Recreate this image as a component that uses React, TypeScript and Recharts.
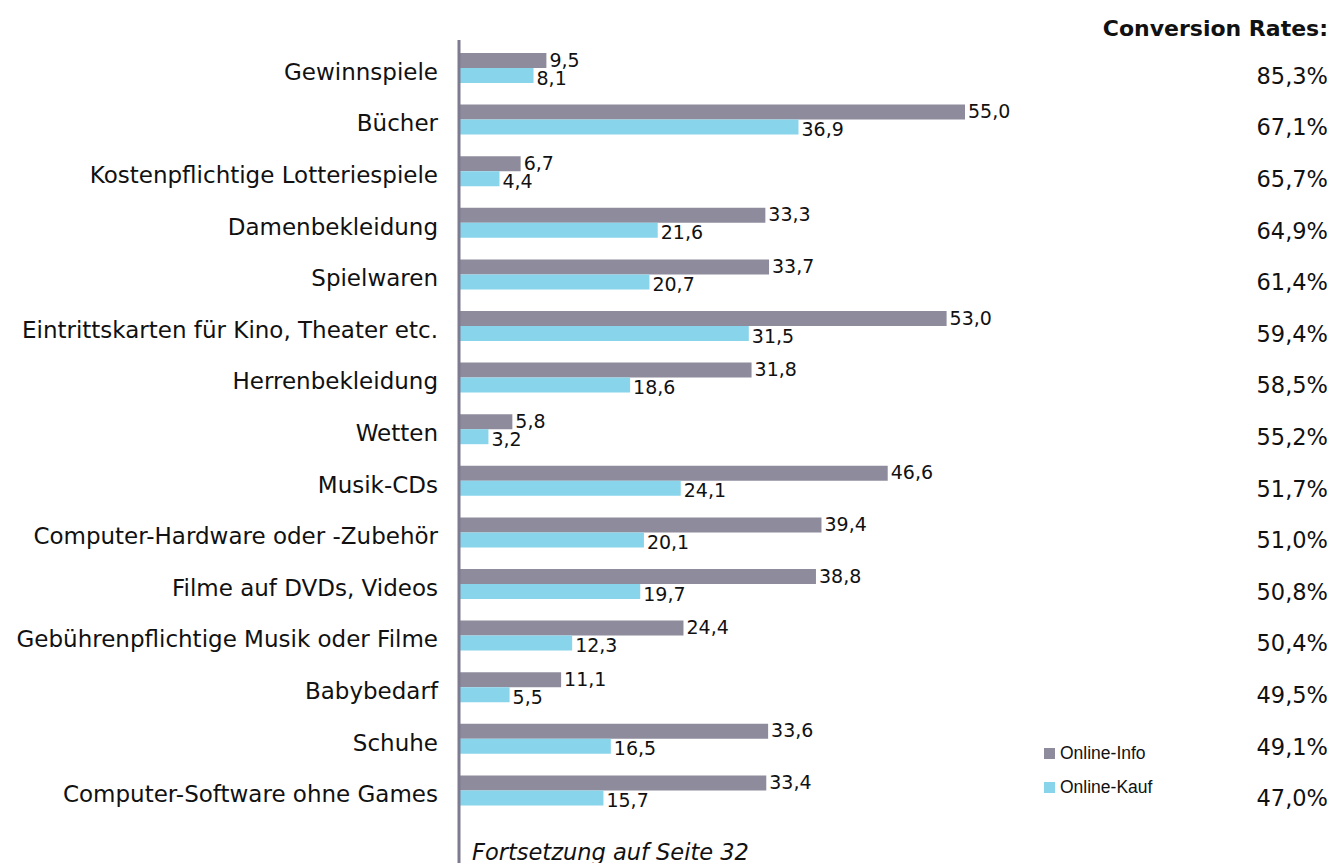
import { BarChart, Bar, XAxis, YAxis, Legend, LabelList } from "recharts"

const categories = [
  "Gewinnspiele",
  "Bücher",
  "Kostenpflichtige Lotteriespiele",
  "Damenbekleidung",
  "Spielwaren",
  "Eintrittskarten für Kino, Theater etc.",
  "Herrenbekleidung",
  "Wetten",
  "Musik-CDs",
  "Computer-Hardware oder -Zubehör",
  "Filme auf DVDs, Videos",
  "Gebührenpflichtige Musik oder Filme",
  "Babybedarf",
  "Schuhe",
  "Computer-Software ohne Games",
]
const onlineInfo = [9.5, 55.0, 6.7, 33.3, 33.7, 53.0, 31.8, 5.8, 46.6, 39.4, 38.8, 24.4, 11.1, 33.6, 33.4]
const onlineKauf = [8.1, 36.9, 4.4, 21.6, 20.7, 31.5, 18.6, 3.2, 24.1, 20.1, 19.7, 12.3, 5.5, 16.5, 15.7]
const conversionRates = [
  "85,3%", "67,1%", "65,7%", "64,9%", "61,4%", "59,4%", "58,5%", "55,2%",
  "51,7%", "51,0%", "50,8%", "50,4%", "49,5%", "49,1%", "47,0%",
]

const data = categories.map((name, i) => ({
  name,
  info: onlineInfo[i],
  kauf: onlineKauf[i],
  rate: conversionRates[i],
}))

const FONT = "'DejaVu Sans', Verdana, sans-serif"
const GRAY = "#8e8c9c"
const BLUE = "#88d4eb"
const RIGHT_W = 138

const fmt = (v: number) => Number(v).toFixed(1).replace(".", ",")

const valueLabel = (dy: number) => (props: any) => {
  const { x, y, width, height, value } = props
  return (
    <text
      x={Number(x) + Number(width) + 3}
      y={Number(y) + Number(height) / 2 + dy}
      dominantBaseline="central"
      fontSize={19}
      fontFamily={FONT}
      fill="#111"
    >
      {fmt(value)}
    </text>
  )
}

const CategoryTick = (props: any) => {
  const { x, y, payload } = props
  return (
    <text x={x} y={y + 4} textAnchor="end" dominantBaseline="central" fontSize={23} fontFamily={FONT} fill="#111">
      {payload.value}
    </text>
  )
}

const RateTick = (props: any) => {
  const { x, y, payload } = props
  const row = data.find((d) => d.name === payload.value)
  return (
    <text x={x + RIGHT_W - 5} y={y + 8} textAnchor="end" dominantBaseline="central" fontSize={22.5} fontFamily={FONT} fill="#111">
      {row ? row.rate : ""}
    </text>
  )
}

const LegendBox = (props: any) => {
  const { payload } = props
  return (
    <div style={{ fontFamily: "'Liberation Sans', Arial, sans-serif", fontSize: 17.5, color: "#111" }}>
      {payload.map((p: any) => (
        <div key={p.value} style={{ display: "flex", alignItems: "center", height: 34 }}>
          <span style={{ width: 11, height: 11, background: p.color, marginRight: 5, display: "inline-block" }} />
          {p.value}
        </div>
      ))}
    </div>
  )
}

export default function App() {
  return (
    <div style={{ position: "absolute", left: 0, top: 0, width: 1333, height: 863, background: "#fff" }}>
      <BarChart
        width={1333}
        height={863}
        layout="vertical"
        data={data}
        margin={{ top: 40, right: 0, bottom: 0, left: 0 }}
        barGap={0}
        barSize={15}
      >
        <XAxis type="number" domain={[0, 80]} hide />
        <YAxis
          yAxisId="left"
          type="category"
          dataKey="name"
          width={459}
          padding={{ top: 2, bottom: 47 }}
          axisLine={{ stroke: "#7e7a90", strokeWidth: 3 }}
          tickLine={false}
          tickSize={0}
          tickMargin={21}
          tick={<CategoryTick />}
          interval={0}
        />
        <YAxis
          yAxisId="right"
          orientation="right"
          type="category"
          dataKey="name"
          width={RIGHT_W}
          padding={{ top: 2, bottom: 47 }}
          axisLine={false}
          tickLine={false}
          tickSize={0}
          tickMargin={0}
          tick={<RateTick />}
          interval={0}
        />
        <Legend
          layout="vertical"
          verticalAlign="middle"
          align="center"
          content={<LegendBox />}
          wrapperStyle={{ left: 1044, top: 736, width: 150 }}
        />
        <Bar yAxisId="left" dataKey="info" name="Online-Info" fill={GRAY} isAnimationActive={false}>
          <LabelList dataKey="info" content={valueLabel(-1)} />
        </Bar>
        <Bar yAxisId="left" dataKey="kauf" name="Online-Kauf" fill={BLUE} isAnimationActive={false}>
          <LabelList dataKey="kauf" content={valueLabel(2)} />
        </Bar>
      </BarChart>
      <div
        style={{
          position: "absolute",
          right: 5,
          top: 16,
          fontFamily: FONT,
          fontWeight: "bold",
          fontSize: 22,
          color: "#111",
        }}
      >
        Conversion Rates:
      </div>
      <div
        style={{
          position: "absolute",
          left: 472,
          top: 839,
          fontFamily: FONT,
          fontStyle: "italic",
          fontSize: 22.5,
          color: "#111",
        }}
      >
        Fortsetzung auf Seite 32
      </div>
    </div>
  )
}
